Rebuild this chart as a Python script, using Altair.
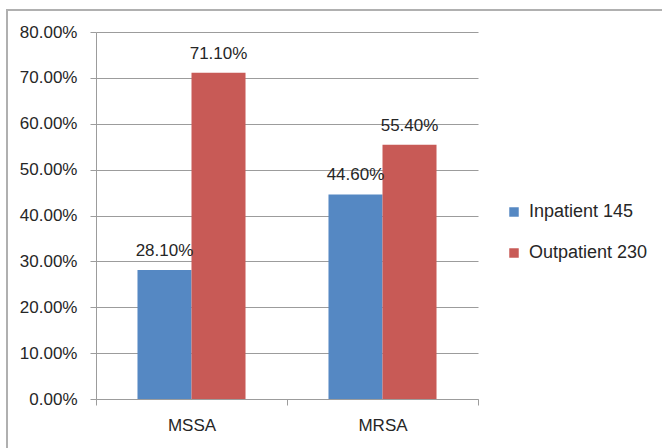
import altair as alt
import pandas as pd

categories = ["MSSA", "MRSA"]
series = ["Inpatient 145", "Outpatient 230"]
inpatient = [0.281, 0.446]
outpatient = [0.711, 0.554]
colors = ["#5588C3", "#C85A56"]

rows = []
for i, c in enumerate(categories):
    rows.append({"cat": c, "series": series[0], "value": inpatient[i]})
    rows.append({"cat": c, "series": series[1], "value": outpatient[i]})
df = pd.DataFrame(rows)

FONT = "Liberation Sans"
GRID = "#9c9c9c"

x = alt.X("cat:N", sort=categories, title=None,
          scale=alt.Scale(paddingInner=0, paddingOuter=0),
          axis=alt.Axis(labelAngle=0, tickBand="extent", tickSize=6,
                        tickColor=GRID, domainColor=GRID, labelPadding=12,
                        labelFontSize=17, labelFont=FONT, labelColor="#262626",
                        grid=False))
xo = alt.XOffset("series:N", sort=series,
                 scale=alt.Scale(paddingInner=0, paddingOuter=0.768))
y = alt.Y("value:Q", title=None,
          scale=alt.Scale(domain=[0, 0.8], nice=False),
          axis=alt.Axis(values=[i / 10 for i in range(9)], format=".2%",
                        tickSize=6, tickColor=GRID, domainColor=GRID,
                        gridColor=GRID, gridWidth=1, labelPadding=13,
                        labelFontSize=17, labelFont=FONT, labelColor="#262626"))

bars = alt.Chart(df).mark_bar().encode(
    x=x, xOffset=xo, y=y,
    color=alt.Color("series:N", sort=series,
                    scale=alt.Scale(domain=series, range=colors),
                    legend=alt.Legend(title=None, orient="none", legendX=409,
                                      legendY=171, symbolType="square",
                                      symbolSize=90, symbolStrokeWidth=0,
                                      labelFontSize=18, labelFont=FONT,
                                      labelColor="#262626", rowPadding=23,
                                      labelOffset=6, padding=0)),
)

labels = alt.Chart(df).mark_text(
    baseline="alphabetic", dy=-14, fontSize=17, font=FONT, color="#262626"
).encode(
    x=alt.X("cat:N", sort=categories), xOffset=alt.XOffset("series:N", sort=series),
    y="value:Q",
    text=alt.Text("value:Q", format=".2%"),
)

one = pd.DataFrame({"a": [0]})
border_left = alt.Chart(one).mark_rule(color="#b0b0b0", strokeWidth=2).encode(
    x=alt.value(-89), y=alt.value(-22), y2=alt.value(500))
border_top = alt.Chart(one).mark_rule(color="#b0b0b0", strokeWidth=2).encode(
    x=alt.value(-90), x2=alt.value(700), y=alt.value(-22))

chart = alt.layer(bars, labels, border_left, border_top).properties(
    width=382, height=367,
    autosize=alt.AutoSizeParams(type="none"),
    padding={"left": 96, "top": 32, "right": 184, "bottom": 49},
    background="white",
).configure_view(stroke=None).configure_axis(domainWidth=1, tickWidth=1)

chart.save("out.html", embed_options={"renderer": "svg", "actions": False})
